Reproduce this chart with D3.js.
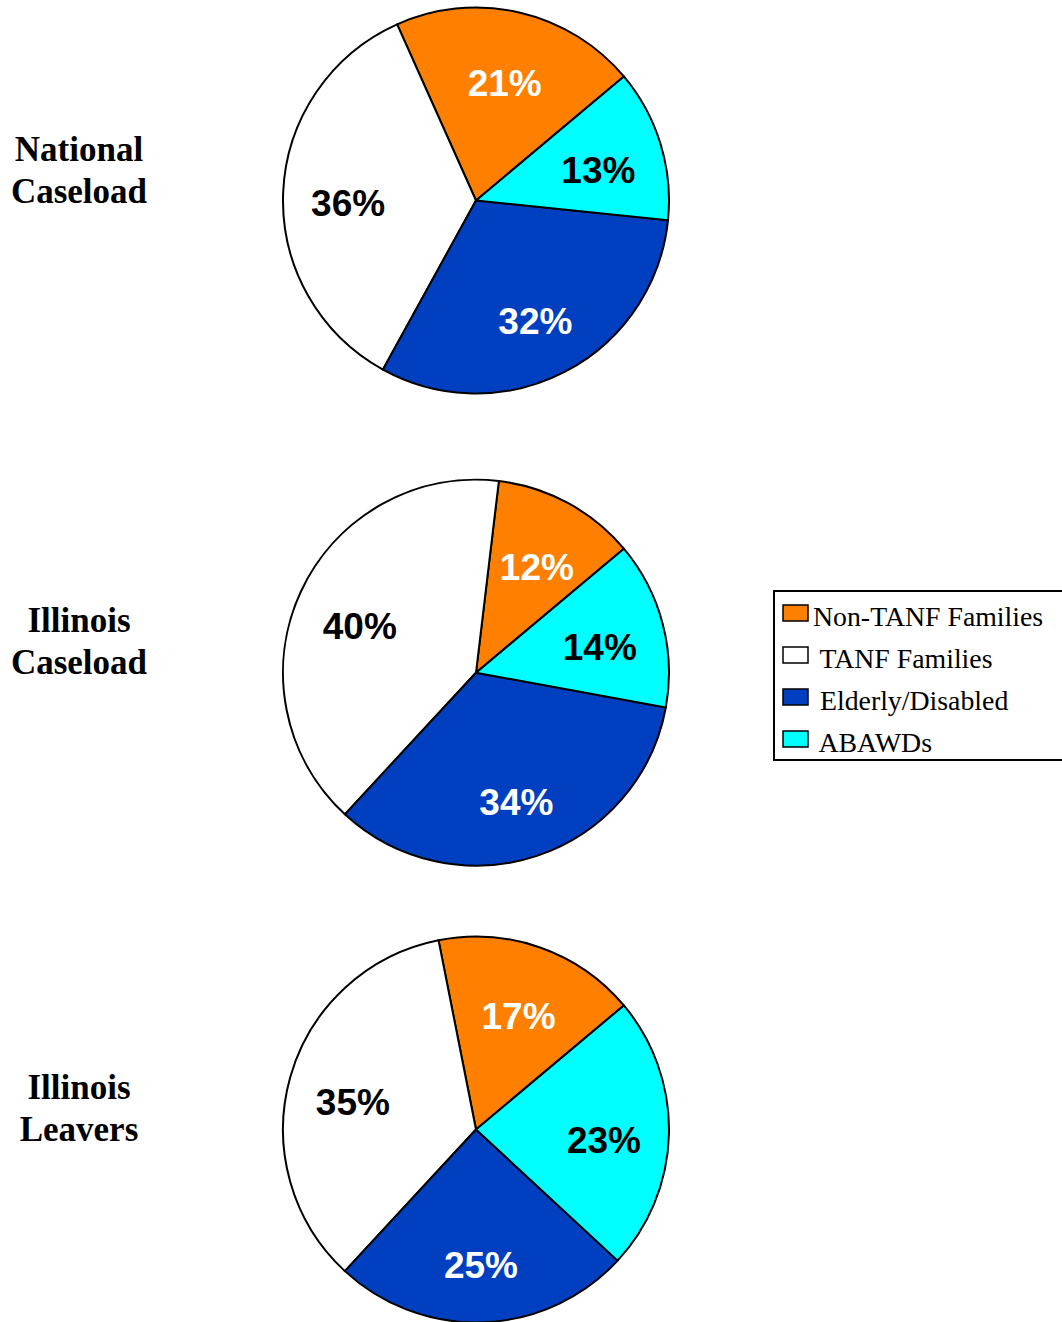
<!DOCTYPE html>
<html>
<head>
<meta charset="utf-8">
<script src="https://cdnjs.cloudflare.com/ajax/libs/d3/7.8.5/d3.min.js"></script>
<style>
  body { margin: 0; background: #fff; }
  svg { display: block; }
</style>
</head>
<body>
<div id="chart"></div>
<script>
// Data (values are the printed percentages)
var categories = ["Non-TANF Families", "TANF Families", "Elderly/Disabled", "ABAWDs"];
var legendLabels = ["Non-TANF Families", " TANF Families", " Elderly/Disabled", " ABAWDs"];
var panelTitles = [["National", "Caseload"], ["Illinois", "Caseload"], ["Illinois", "Leavers"]];
var nationalCaseload = [21, 36, 32, 13];
var illinoisCaseload = [12, 40, 34, 14];
var illinoisLeavers = [17, 35, 25, 23];
var seriesValues = [nationalCaseload, illinoisCaseload, illinoisLeavers];

var colors = ["#FF8000", "#FFFFFF", "#0040C0", "#00FFFF"];
var textColors = ["#fff", "#000", "#fff", "#000"];

// Layout
var width = 1062, height = 1322;
var cx = 476, radius = 193, labelRadius = 128;
var panelY = [200.5, 672.7, 1129.5];
var titleX = 79, titleBaseline = [203, 674, 1141];

var svg = d3.select("#chart").append("svg")
  .attr("width", width)
  .attr("height", height);

var color = d3.scaleOrdinal().domain(categories).range(colors);
var textColor = d3.scaleOrdinal().domain(categories).range(textColors);

// slices go counter-clockwise, first one starting 50deg right of 12 o'clock
var start = 50 * Math.PI / 180;
var pie = d3.pie()
  .sort(null)
  .value(function(d) { return d.value; })
  .startAngle(start)
  .endAngle(start - 2 * Math.PI);

var arc = d3.arc().innerRadius(0).outerRadius(radius);
var labelArc = d3.arc().innerRadius(labelRadius).outerRadius(labelRadius);

seriesValues.forEach(function(vals, i) {
  var rows = categories.map(function(c, j) { return {key: c, value: vals[j]}; });
  var g = svg.append("g")
    .attr("transform", "translate(" + cx + "," + panelY[i] + ")");

  var slices = g.selectAll(".slice").data(pie(rows)).enter();

  slices.append("path")
    .attr("class", "slice")
    .attr("d", arc)
    .style("fill", function(d) { return color(d.data.key); })
    .style("stroke", "#000")
    .style("stroke-width", 2)
    .style("stroke-linejoin", "round");

  slices.append("text")
    .attr("transform", function(d) { return "translate(" + labelArc.centroid(d) + ")"; })
    .attr("text-anchor", "middle")
    .attr("dy", "0.55em")
    .style("font-family", "Arial, 'Liberation Sans', sans-serif")
    .style("font-weight", "bold")
    .style("font-size", "37px")
    .style("fill", function(d) { return textColor(d.data.key); })
    .text(function(d) { return d.data.value + "%"; });

  // panel title on the left
  var t = svg.append("text")
    .attr("x", titleX)
    .attr("y", titleBaseline[i] - 42)
    .attr("text-anchor", "middle")
    .style("font-family", "'Times New Roman', 'Liberation Serif', serif")
    .style("font-weight", "bold")
    .style("font-size", "35px");
  t.append("tspan").attr("x", titleX).text(panelTitles[i][0]);
  t.append("tspan").attr("x", titleX).attr("dy", 42).text(panelTitles[i][1]);
});

// Legend
var legend = svg.append("g").attr("transform", "translate(774,591)");
legend.append("rect")
  .attr("x", 0).attr("y", 0)
  .attr("width", 300).attr("height", 169)
  .style("fill", "#fff")
  .style("stroke", "#000")
  .style("stroke-width", 2);

var items = legend.selectAll(".item").data(categories).enter()
  .append("g")
  .attr("class", "item")
  .attr("transform", function(d, i) { return "translate(0," + (i * 42) + ")"; });

items.append("rect")
  .attr("x", 9).attr("y", 14)
  .attr("width", 25).attr("height", 16)
  .style("fill", function(d) { return color(d); })
  .style("stroke", "#000")
  .style("stroke-width", 1.5);

items.append("text")
  .attr("x", 39).attr("y", 34.5)
  .style("white-space", "pre")
  .attr("xml:space", "preserve")
  .style("font-family", "'Times New Roman', 'Liberation Serif', serif")
  .style("font-size", "27.8px")
  .text(function(d, i) { return legendLabels[i]; });
</script>
</body>
</html>
